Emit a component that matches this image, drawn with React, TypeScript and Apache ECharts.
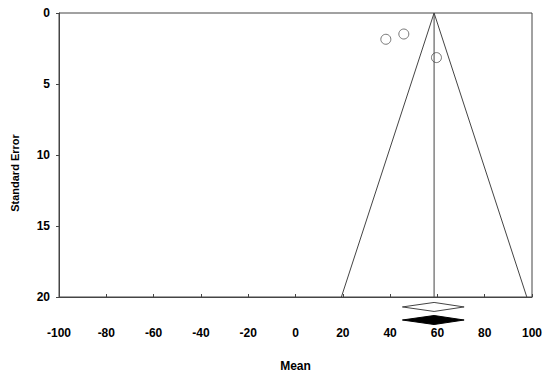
import React, { useEffect, useRef } from "react";
import * as echarts from "echarts";

const studyMeans = [38.2, 45.8, 59.6];
const studySE = [1.85, 1.48, 3.14];
const pooledMean = 58.6;
const funnelSEMax = 20;
const xTicks = [-100, 100, 20];
const yTicks = [0, 20, 5];
// diamonds: [center, lower, upper, rowY]
const diamondOpen = [58.6, 45.2, 71.3, 20.7];
const diamondFilled = [58.6, 45.2, 71.3, 21.62];

export default function App() {
  const ref = useRef<HTMLDivElement>(null);
  useEffect(() => {
    document.body.style.margin = "0";
    const chart = echarts.init(ref.current!, null, { renderer: "svg" });
    const z = 1.96;
    const funnel = [
      [pooledMean - z * funnelSEMax, funnelSEMax],
      [pooledMean, 0],
      [pooledMean + z * funnelSEMax, funnelSEMax],
    ];
    const vline = [
      [pooledMean, 0],
      [pooledMean, funnelSEMax],
    ];
    const font = "Liberation Sans, Arial, sans-serif";
    chart.setOption({
      animation: false,
      backgroundColor: "#fff",
      grid: {
        left: 59,
        top: 13,
        right: 18,
        bottom: 83,
        show: true,
        borderColor: "#444",
        borderWidth: 1,
        backgroundColor: "transparent",
      },
      xAxis: {
        type: "value",
        min: xTicks[0],
        max: xTicks[1],
        interval: xTicks[2],
        position: "bottom",
        name: "Mean",
        nameLocation: "middle",
        nameGap: 63,
        nameTextStyle: { fontFamily: font, fontWeight: "bold", fontSize: 12, color: "#000" },
        axisLine: { show: true, onZero: false, lineStyle: { color: "#444", width: 1 } },
        axisTick: { show: true, inside: true, length: 3, lineStyle: { color: "#444" } },
        axisLabel: { margin: 30, fontFamily: font, fontWeight: "bold", fontSize: 12, color: "#000" },
        splitLine: { show: false },
      },
      yAxis: {
        type: "value",
        inverse: true,
        position: "left",
        min: yTicks[0],
        max: yTicks[1],
        interval: yTicks[2],
        axisLine: { show: true, onZero: false, lineStyle: { color: "#444", width: 1 } },
        axisTick: { show: true, inside: false, length: 3, lineStyle: { color: "#444" } },
        axisLabel: { margin: 9, fontFamily: font, fontWeight: "bold", fontSize: 12, color: "#000" },
        splitLine: { show: false },
      },
      graphic: [
        {
          type: "text",
          x: 15,
          y: 173,
          rotation: Math.PI / 2,
          style: {
            text: "Standard Error",
            fontFamily: font,
            fontWeight: "bold",
            fontSize: 11,
            fill: "#000",
            align: "center",
            verticalAlign: "middle",
          },
        },
      ],
      series: [
        {
          type: "line",
          data: funnel,
          symbol: "none",
          lineStyle: { color: "#444", width: 1 },
          silent: true,
        },
        {
          type: "line",
          data: vline,
          symbol: "none",
          lineStyle: { color: "#444", width: 1 },
          silent: true,
        },
        {
          type: "scatter",
          data: studyMeans.map((m, i) => [m, studySE[i]]),
          symbol: "circle",
          symbolSize: 10,
          itemStyle: { color: "#fff", borderColor: "#555", borderWidth: 1 },
        },
        {
          type: "custom",
          clip: false,
          data: [
            [...diamondOpen, 0],
            [...diamondFilled, 1],
          ],
          renderItem: (params: any, api: any) => {
            const c = api.value(0);
            const lo = api.value(1);
            const hi = api.value(2);
            const row = api.value(3);
            const filled = api.value(4) === 1;
            const pc = api.coord([c, row]);
            const pl = api.coord([lo, row]);
            const ph = api.coord([hi, row]);
            const h = 4.5;
            return {
              type: "polygon",
              shape: {
                points: [
                  [pl[0], pc[1]],
                  [pc[0], pc[1] - h],
                  [ph[0], pc[1]],
                  [pc[0], pc[1] + h],
                ],
              },
              style: {
                fill: filled ? "#000" : "#fff",
                stroke: filled ? "#000" : "#444",
                lineWidth: 1,
              },
            };
          },
        },
      ],
    });
    return () => chart.dispose();
  }, []);
  return <div ref={ref} style={{ width: 550, height: 380 }} />;
}
